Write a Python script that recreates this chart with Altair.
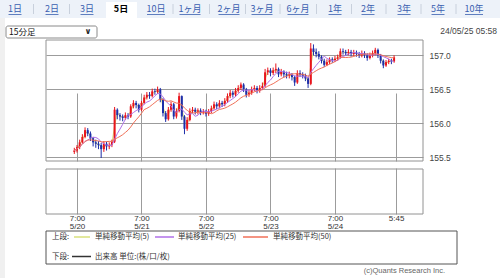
import altair as alt
import pandas as pd

# ---------------- data (hourly bars) ----------------
closes = [
    155.60, 155.65, 155.72, 155.80, 155.90, 155.85, 155.78, 155.72, 155.70, 155.68,
    155.62, 155.70, 155.66, 155.68, 155.73, 156.20, 156.12, 156.10, 156.08, 156.12,
    156.10, 156.25, 156.30, 156.27, 156.20, 156.30, 156.38, 156.42, 156.40, 156.47,
    156.46, 156.50, 156.35, 156.15, 156.06, 156.20, 156.28, 156.10, 156.18, 156.40,
    156.10, 155.92, 156.05, 156.18, 156.20, 156.17, 156.19, 156.16, 156.18, 156.14,
    156.18, 156.22, 156.28, 156.25, 156.30, 156.28, 156.33, 156.40, 156.45, 156.42,
    156.48, 156.52, 156.57, 156.50, 156.42, 156.45, 156.50, 156.52, 156.48, 156.52,
    156.55, 156.75, 156.78, 156.74, 156.78, 156.80, 156.72, 156.76, 156.72, 156.70,
    156.72, 156.68, 156.60, 156.74, 156.72, 156.70, 156.66, 156.58, 157.10, 157.05,
    157.02, 156.98, 156.92, 156.86, 156.90, 156.94, 156.93, 156.95, 156.97, 157.06,
    157.05, 157.03, 157.05, 157.02, 157.04, 157.02, 157.00, 157.03, 157.00, 156.96,
    157.00, 157.03, 157.08, 157.00, 156.92, 156.85, 156.90, 156.92, 156.91, 156.97,
]
highs = [
    155.64, 155.68, 155.76, 155.84, 155.94, 155.93, 155.88, 155.80, 155.76, 155.74,
    155.71, 155.74, 155.73, 155.72, 155.76, 156.24, 156.22, 156.15, 156.13, 156.16,
    156.15, 156.28, 156.34, 156.33, 156.29, 156.33, 156.42, 156.46, 156.46, 156.51,
    156.51, 156.54, 156.52, 156.37, 156.18, 156.24, 156.32, 156.30, 156.22, 156.45,
    156.41, 156.12, 156.09, 156.22, 156.24, 156.23, 156.22, 156.22, 156.21, 156.20,
    156.21, 156.26, 156.32, 156.31, 156.34, 156.33, 156.37, 156.44, 156.49, 156.48,
    156.52, 156.56, 156.60, 156.59, 156.52, 156.49, 156.54, 156.56, 156.55, 156.56,
    156.60, 156.80, 156.82, 156.81, 156.82, 156.88, 156.82, 156.80, 156.78, 156.76,
    156.76, 156.74, 156.70, 156.78, 156.78, 156.75, 156.73, 156.68, 157.18, 157.16,
    157.10, 157.06, 157.00, 156.95, 156.94, 156.97, 156.97, 156.99, 157.01, 157.10,
    157.10, 157.08, 157.09, 157.08, 157.08, 157.07, 157.05, 157.07, 157.06, 157.03,
    157.04, 157.07, 157.11, 157.10, 157.02, 156.94, 156.93, 156.95, 156.95, 157.00,
]
lows = [
    155.55, 155.57, 155.62, 155.70, 155.78, 155.81, 155.74, 155.66, 155.64, 155.62,
    155.49, 155.58, 155.60, 155.62, 155.65, 155.71, 156.06, 156.04, 156.03, 156.05,
    156.06, 156.08, 156.22, 156.22, 156.16, 156.18, 156.28, 156.35, 156.36, 156.38,
    156.42, 156.43, 156.31, 156.10, 156.02, 156.04, 156.17, 156.06, 156.07, 156.16,
    156.05, 155.84, 155.89, 156.03, 156.15, 156.13, 156.13, 156.12, 156.13, 156.10,
    156.11, 156.15, 156.20, 156.21, 156.22, 156.24, 156.25, 156.30, 156.37, 156.38,
    156.39, 156.45, 156.49, 156.46, 156.38, 156.39, 156.42, 156.47, 156.44, 156.45,
    156.49, 156.53, 156.71, 156.69, 156.71, 156.74, 156.68, 156.69, 156.68, 156.66,
    156.66, 156.63, 156.55, 156.58, 156.68, 156.66, 156.62, 156.52, 156.56, 157.00,
    156.97, 156.94, 156.88, 156.83, 156.84, 156.87, 156.89, 156.90, 156.92, 156.95,
    157.01, 156.99, 157.00, 156.98, 156.99, 156.98, 156.96, 156.97, 156.96, 156.92,
    156.94, 156.97, 157.00, 156.96, 156.88, 156.81, 156.83, 156.87, 156.87, 156.89,
]
first_open = 155.58
# hours since 2024-05-20 00:00 (first bar 5/20 06:00)
hours = [6 + i for i in range(len(closes))]
opens = [first_open] + closes[:-1]

tick_hours = [7, 31, 55, 79, 103, 125.75]
tick_time = ["7:00", "7:00", "7:00", "7:00", "7:00", "5:45"]
tick_date = ["5/20", "5/21", "5/22", "5/23", "5/24", ""]
price_ticks = [155.5, 156.0, 156.5, 157.0]

tabs = ["1日", "2日", "3日", "5日", "10日", "1ヶ月", "2ヶ月", "3ヶ月", "6ヶ月", "1年", "2年", "3年", "5年", "10年"]
selected_tab = "5日"

df = pd.DataFrame({"t": hours, "open": opens, "high": highs, "low": lows, "close": closes})
one = pd.DataFrame({"k": [0]})

# ---------------- styling ----------------
W, H = 377, 174
MAIN_H = 121
LOW_TOP, LOW_BOT = 129, 174
GRID = "#9c9c9c"
BORDER = "#929292"
UP, DOWN = "#e8141c", "#1c2ea8"
MA5_C, MA25_C, MA50_C = "#d8e07c", "#b070e8", "#f07058"
JP = "Noto Sans CJK JP"
LAT = "Liberation Sans"

# x label expression built from tick arrays
expr = "''"
for h, a, b in reversed(list(zip(tick_hours, tick_time, tick_date))):
    lab = f"['{a}','{b}']" if b else f"'{a}'"
    expr = f"datum.value == {h} ? {lab} : ({expr})"

xenc = alt.X(
    "t:Q",
    scale=alt.Scale(domain=[-2.67, 133.9], nice=False, zero=False),
    axis=alt.Axis(values=tick_hours, labelExpr=expr, grid=True, gridColor=GRID, gridWidth=1,
                  domain=False, ticks=False, labelFontSize=8, labelColor="#333", labelFont=LAT,
                  labelPadding=0, labelLineHeight=8, labelOverlap=False, labelFlush=False, title=None),
)
yscale = alt.Scale(domain=[155.446, 157.225], range=[MAIN_H, 0], nice=False, zero=False)
yaxis = alt.Axis(orient="right", values=price_ticks, format=".1f", grid=True, gridColor=GRID,
                 gridWidth=1, domain=False, ticks=False, labelFontSize=8.5, labelColor="#444",
                 labelFont=LAT, labelPadding=6, title=None)

cbase = alt.Chart(df).transform_calculate(dir="datum.close >= datum.open ? 'up' : 'down'")
color = alt.Color("dir:N", scale=alt.Scale(domain=["up", "down"], range=[UP, DOWN]), legend=None)

wicks = cbase.mark_rule(strokeWidth=1).encode(
    x=xenc, y=alt.Y("low:Q", scale=yscale, axis=yaxis), y2="high:Q", color=color)
bodies = cbase.mark_bar(size=2).encode(
    x=xenc, y=alt.Y("open:Q", scale=yscale, axis=yaxis), y2="close:Q", color=color)

ma = alt.Chart(df).transform_window(
    ma5="mean(close)", frame=[-1, 0], sort=[alt.SortField("t")]
).transform_window(
    ma25="mean(close)", frame=[-5, 0], sort=[alt.SortField("t")]
).transform_window(
    ma50="mean(close)", frame=[-11, 0], sort=[alt.SortField("t")]
)
ma5 = ma.mark_line(color=MA5_C, strokeWidth=1).encode(x=xenc, y=alt.Y("ma5:Q", scale=yscale, axis=yaxis))
ma25 = ma.mark_line(color=MA25_C, strokeWidth=1).encode(x=xenc, y=alt.Y("ma25:Q", scale=yscale, axis=yaxis))
ma50 = ma.mark_line(color=MA50_C, strokeWidth=1).encode(x=xenc, y=alt.Y("ma50:Q", scale=yscale, axis=yaxis))


def rect(x, x2, y, y2, **kw):
    return alt.Chart(one).mark_rect(**kw).encode(
        x=alt.value(x), x2=alt.value(x2), y=alt.value(y), y2=alt.value(y2))


def hline(x, x2, y, color, width=1):
    return alt.Chart(one).mark_rule(color=color, strokeWidth=width).encode(
        x=alt.value(x), x2=alt.value(x2), y=alt.value(y))


def vline(x, y, y2, color, width=1):
    return alt.Chart(one).mark_rule(color=color, strokeWidth=width).encode(
        x=alt.value(x), y=alt.value(y), y2=alt.value(y2))


def text(s, x, y, size=8, color="#333", align="left", font=JP, weight="normal"):
    return alt.Chart(one).mark_text(text=s, fontSize=size, color=color, align=align,
                                    baseline="middle", font=font, fontWeight=weight).encode(
        x=alt.value(x), y=alt.value(y))


layers = []
# page decorations (coordinates relative to plot origin at screen (46, 40))
layers.append(rect(-46, 454, -40, -22, fill="#edf2f9"))
layers.append(rect(-46, -41, -22, 238, fill="#f0f0f0"))
tab_centers = [15, 52, 87, 121, 156, 190, 229, 262, 298, 335, 368, 404, 438, 474]
for i, (lab, cx) in enumerate(zip(tabs, tab_centers)):
    px = cx - 46
    if lab == selected_tab:
        layers.append(rect(px - 15, px + 16, -38, -21, fill="#ffffff"))
        layers.append(text(lab, px, -31, size=9, color="#000", align="center", weight="bold"))
    else:
        layers.append(text(lab, px, -31, size=9, color="#3a5fb0", align="center"))
        w = sum(5 if c.isdigit() else 8 for c in lab)
        layers.append(hline(px - w / 2, px + w / 2, -25.5, "#3a5fb0", 0.8))
    if i < len(tabs) - 1:
        nx = (cx + tab_centers[i + 1]) / 2 - 46
        if lab != selected_tab and tabs[i + 1] != selected_tab:
            layers.append(vline(nx, -36, -26, "#c8d0dc"))

layers.append(rect(-40, 51, -14, -2, fill="#ffffff", stroke="#8a8a8a", strokeWidth=1, cornerRadius=2))
layers.append(text("15分足", -37, -8, size=8.5, color="#111"))
layers.append(text("∨", 42, -8, size=8, color="#222", align="center", font="DejaVu Sans", weight="bold"))
layers.append(text("24/05/25 05:58", 451, -9, size=8.5, color="#444", align="right", font=LAT))

# data layers
layers += [ma5, wicks, bodies, ma25, ma50]

# gap between panels and panel borders
layers.append(rect(-1, W + 1, MAIN_H + 0.5, LOW_TOP - 0.5, fill="#ffffff"))
layers.append(rect(0, W, 0, MAIN_H, fill=None, fillOpacity=0, stroke=BORDER, strokeWidth=1))
layers.append(rect(0, W, LOW_TOP, LOW_BOT, fill=None, fillOpacity=0, stroke=BORDER, strokeWidth=1))

# legend box
layers.append(rect(0, 411, 191, 224, fill="#ffffff", stroke="#555", strokeWidth=1))
layers.append(text("上段:", 6, 197, size=7.5))
layers.append(hline(28, 44, 197, MA5_C, 1.5))
layers.append(text("単純移動平均(5)", 49, 197, size=7.5))
layers.append(hline(109, 128, 197, MA25_C, 1.5))
layers.append(text("単純移動平均(25)", 132, 197, size=7.5))
layers.append(hline(197, 222, 197, MA50_C, 1.5))
layers.append(text("単純移動平均(50)", 227, 197, size=7.5))
layers.append(text("下段:", 6, 216.5, size=7.5))
layers.append(hline(26, 45, 216.5, "#333", 1.5))
layers.append(text("出来高 単位:(株/口/枚)", 49, 216.5, size=7.5))

layers.append(text("(c)Quants Research Inc.", 399, 231, size=7.5, color="#666", align="right", font=LAT))

chart = alt.layer(*layers).properties(
    width=W, height=H,
    autosize=alt.AutoSizeParams(type="none"),
    padding={"left": 46, "top": 40, "right": 77, "bottom": 64},
    background="#ffffff",
).configure_view(stroke=None)

chart.save("out.html", embed_options={"renderer": "svg", "actions": False})
